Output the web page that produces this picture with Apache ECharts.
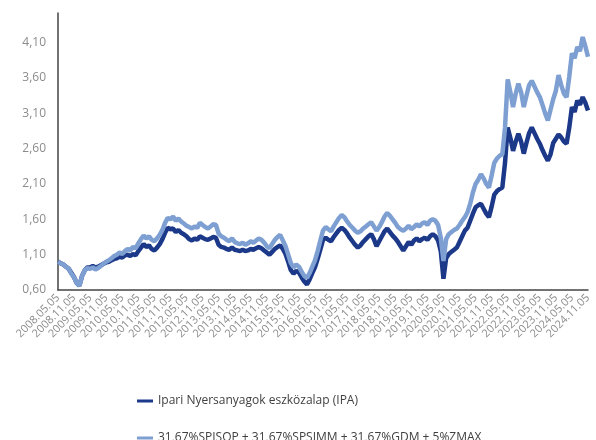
<!DOCTYPE html>
<html>
<head>
<meta charset="utf-8">
<script src="https://cdn.jsdelivr.net/npm/echarts@6/dist/echarts.min.js"></script>
<style>
  html, body { margin: 0; padding: 0; background: #fff; }
  #chart { width: 596px; height: 440px; }
</style>
</head>
<body>
<div id="chart"></div>
<script>
// monthly points, 2008.05 .. 2024.11
const startYear = 2008
const startMonth = 5
const monthCount = 199

const seriesNames = [
  'Ipari Nyersanyagok eszközalap (IPA)',
  '31,67%SPISOP + 31,67%SPSIMM + 31,67%GDM + 5%ZMAX'
]

// IPA (dark)
const ipaValues = [
  1.00, 0.98, 0.96, 0.93, 0.90, 0.84, 0.78, 0.70, 0.66, 0.80,
  0.88, 0.92, 0.92, 0.94, 0.92, 0.93, 0.95, 0.97, 0.99, 1.00,
  1.02, 1.04, 1.05, 1.07, 1.06, 1.09, 1.10, 1.08, 1.11, 1.09,
  1.15, 1.20, 1.25, 1.21, 1.23, 1.18, 1.16, 1.20, 1.25, 1.32,
  1.41, 1.48, 1.46, 1.47, 1.42, 1.45, 1.41, 1.39, 1.36, 1.32,
  1.30, 1.33, 1.31, 1.36, 1.34, 1.32, 1.31, 1.33, 1.35, 1.34,
  1.24, 1.21, 1.20, 1.18, 1.17, 1.20, 1.17, 1.16, 1.15, 1.17,
  1.15, 1.16, 1.18, 1.17, 1.19, 1.21, 1.19, 1.16, 1.13, 1.10,
  1.14, 1.18, 1.21, 1.23, 1.18, 1.11, 1.00, 0.88, 0.83, 0.87,
  0.85, 0.78, 0.72, 0.68, 0.75, 0.84, 0.92, 1.04, 1.17, 1.31,
  1.34, 1.31, 1.29, 1.35, 1.40, 1.45, 1.48, 1.45, 1.40, 1.34,
  1.29, 1.24, 1.20, 1.23, 1.28, 1.32, 1.36, 1.39, 1.32, 1.22,
  1.29, 1.36, 1.43, 1.47, 1.42, 1.37, 1.33, 1.28, 1.22, 1.16,
  1.22, 1.28, 1.24, 1.30, 1.33, 1.29, 1.32, 1.34, 1.31, 1.36,
  1.39, 1.36, 1.30, 1.15, 0.76, 1.05, 1.11, 1.14, 1.17, 1.20,
  1.28, 1.36, 1.44, 1.48, 1.58, 1.68, 1.77, 1.80, 1.82, 1.75,
  1.68, 1.63, 1.78, 1.95, 2.00, 2.03, 2.05, 2.40, 2.90, 2.75,
  2.57, 2.70, 2.81, 2.70, 2.53, 2.68, 2.82, 2.90, 2.82, 2.74,
  2.67, 2.58, 2.50, 2.43, 2.52, 2.68, 2.74, 2.80, 2.76, 2.70,
  2.67, 2.90, 3.19, 3.12, 3.28, 3.22, 3.33, 3.25, 3.14
]

// benchmark (light)
const benchValues = [
  1.00, 0.98, 0.96, 0.93, 0.90, 0.83, 0.78, 0.70, 0.66, 0.80,
  0.88, 0.91, 0.90, 0.92, 0.89, 0.91, 0.94, 0.97, 1.00, 1.02,
  1.05, 1.08, 1.10, 1.13, 1.11, 1.15, 1.18, 1.16, 1.21, 1.19,
  1.26, 1.32, 1.37, 1.33, 1.36, 1.31, 1.29, 1.33, 1.38, 1.45,
  1.55, 1.62, 1.60, 1.64, 1.58, 1.61, 1.57, 1.54, 1.51, 1.49,
  1.47, 1.50, 1.48, 1.55, 1.52, 1.49, 1.47, 1.50, 1.53, 1.52,
  1.40, 1.36, 1.34, 1.31, 1.29, 1.33, 1.28, 1.26, 1.25, 1.27,
  1.24, 1.26, 1.29, 1.27, 1.30, 1.33, 1.31, 1.27, 1.22, 1.19,
  1.25, 1.31, 1.35, 1.38, 1.30, 1.22, 1.10, 0.98, 0.92, 0.96,
  0.93, 0.86, 0.80, 0.77, 0.84, 0.93, 1.02, 1.15, 1.30, 1.44,
  1.49, 1.46, 1.43, 1.50, 1.56, 1.62, 1.66, 1.63, 1.57, 1.52,
  1.48, 1.44, 1.41, 1.43, 1.47, 1.50, 1.53, 1.56, 1.50, 1.44,
  1.49, 1.56, 1.64, 1.69, 1.65, 1.60, 1.55, 1.49, 1.46, 1.44,
  1.47, 1.51, 1.46, 1.49, 1.53, 1.50, 1.54, 1.56, 1.52, 1.58,
  1.60, 1.58, 1.52, 1.34, 1.01, 1.32, 1.39, 1.42, 1.45, 1.47,
  1.52, 1.58, 1.63, 1.70, 1.82, 1.98, 2.10, 2.16, 2.24, 2.18,
  2.10, 2.05, 2.22, 2.40, 2.46, 2.50, 2.52, 2.90, 3.58, 3.40,
  3.19, 3.38, 3.52, 3.40, 3.19, 3.35, 3.50, 3.56, 3.48, 3.40,
  3.33, 3.22, 3.10, 3.00, 3.15, 3.30, 3.42, 3.64, 3.50, 3.38,
  3.33, 3.62, 3.95, 3.88, 4.04, 3.98, 4.18, 4.05, 3.90
]

const categories = []
for (let i = 0; i < monthCount; i++) {
  const total = startMonth - 1 + i
  const y = startYear + Math.floor(total / 12)
  const m = (total % 12) + 1
  categories.push(y + '.' + String(m).padStart(2, '0') + '.05')
}

const legendBase = {
  left: 132,
  itemWidth: 16,
  itemHeight: 3,
  icon: 'rect',
  textStyle: { fontSize: 12, color: '#404040', fontFamily: 'Open Sans, sans-serif' }
}

const chart = echarts.init(document.getElementById('chart'))
chart.setOption({
  animation: false,
  textStyle: { fontFamily: 'Open Sans, sans-serif' },
  grid: { left: 58, right: 8, top: 13, bottom: 150 },
  legend: [
    Object.assign({ top: 390, data: [seriesNames[0]] }, legendBase),
    Object.assign({ top: 427, data: [seriesNames[1]] }, legendBase)
  ],
  xAxis: {
    type: 'category',
    data: categories,
    boundaryGap: false,
    axisLine: { lineStyle: { color: '#444', width: 1.5 } },
    axisTick: { show: false },
    axisLabel: {
      interval: 5,
      rotate: 45,
      fontSize: 11,
      color: '#8c8c8c',
      margin: 6
    }
  },
  yAxis: {
    type: 'value',
    min: 0.6,
    max: 4.52,
    interval: 0.5,
    axisLine: { show: true, lineStyle: { color: '#444', width: 1.5 } },
    axisTick: { show: false },
    splitLine: { show: false },
    axisLabel: {
      showMaxLabel: false,
      fontSize: 12,
      color: '#8c8c8c',
      margin: 12,
      formatter: v => v.toFixed(2).replace('.', ',')
    }
  },
  series: [
    {
      name: seriesNames[0],
      type: 'line',
      data: ipaValues,
      showSymbol: false,
      lineStyle: { color: '#1b3889', width: 4.5 },
      itemStyle: { color: '#1b3889' }
    },
    {
      name: seriesNames[1],
      type: 'line',
      data: benchValues,
      showSymbol: false,
      lineStyle: { color: '#7e9fd2', width: 4.5 },
      itemStyle: { color: '#7e9fd2' }
    }
  ]
})
</script>
</body>
</html>
